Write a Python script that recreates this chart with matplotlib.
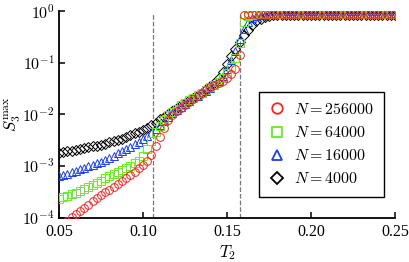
import matplotlib
matplotlib.use("Agg")
import matplotlib.pyplot as plt
import numpy as np

plt.rcParams['mathtext.fontset'] = 'cm'
plt.rcParams['font.family'] = 'serif'
plt.rcParams['font.serif'] = ['Liberation Serif', 'DejaVu Serif']

# temperature grid, 0.05 .. 0.25 in steps of 0.0025
T2 = [0.05 + 0.0025 * i for i in range(81)]

# log10 of S_3^max
log_s_256000 = [-4.20, -4.13, -4.06, -3.99, -3.93, -3.87, -3.81, -3.75, -3.69, -3.63,
                -3.57, -3.51, -3.46, -3.40, -3.35, -3.29, -3.23, -3.17, -3.11, -3.05,
                -2.98, -2.90, -2.78, -2.62, -2.45, -2.26, -2.12, -2.01, -1.94, -1.88,
                -1.83, -1.77, -1.70, -1.64, -1.58, -1.53, -1.48, -1.44, -1.40, -1.35,
                -1.29, -1.22, -1.12, -0.85, -0.07, -0.06, -0.06, -0.06, -0.06, -0.06,
                -0.06, -0.06, -0.06, -0.06, -0.06, -0.06, -0.06, -0.06, -0.06, -0.06,
                -0.06, -0.06, -0.06, -0.06, -0.06, -0.06, -0.06, -0.06, -0.06, -0.06,
                -0.06, -0.06, -0.06, -0.06, -0.06, -0.06, -0.06, -0.06, -0.06, -0.06,
                -0.06]
log_s_64000 = [-3.64, -3.61, -3.58, -3.55, -3.52, -3.48, -3.45, -3.41, -3.37, -3.33,
               -3.29, -3.24, -3.20, -3.16, -3.12, -3.08, -3.04, -3.00, -2.95, -2.90,
               -2.81, -2.68, -2.52, -2.34, -2.22, -2.11, -2.02, -1.95, -1.89, -1.83,
               -1.78, -1.73, -1.68, -1.63, -1.58, -1.53, -1.48, -1.43, -1.38, -1.30,
               -1.20, -1.08, -0.92, -0.62, -0.22, -0.10, -0.07, -0.06, -0.06, -0.06,
               -0.06, -0.06, -0.06, -0.06, -0.06, -0.06, -0.06, -0.06, -0.06, -0.06,
               -0.06, -0.06, -0.06, -0.06, -0.06, -0.06, -0.06, -0.06, -0.06, -0.06,
               -0.06, -0.06, -0.06, -0.06, -0.06, -0.06, -0.06, -0.06, -0.06, -0.06,
               -0.06]
log_s_16000 = [-3.20, -3.18, -3.15, -3.12, -3.10, -3.07, -3.04, -3.01, -2.98, -2.95,
               -2.92, -2.88, -2.84, -2.80, -2.76, -2.72, -2.68, -2.63, -2.58, -2.53,
               -2.48, -2.42, -2.36, -2.29, -2.21, -2.13, -2.05, -1.98, -1.91, -1.85,
               -1.80, -1.74, -1.69, -1.64, -1.59, -1.54, -1.49, -1.43, -1.36, -1.26,
               -1.12, -0.95, -0.78, -0.55, -0.35, -0.21, -0.13, -0.10, -0.08, -0.07,
               -0.065, -0.065, -0.065, -0.065, -0.065, -0.065, -0.065, -0.065, -0.065, -0.065,
               -0.065, -0.065, -0.065, -0.065, -0.065, -0.065, -0.065, -0.065, -0.065, -0.065,
               -0.065, -0.065, -0.065, -0.065, -0.065, -0.065, -0.065, -0.065, -0.065, -0.065,
               -0.065]
log_s_4000 = [-2.75, -2.74, -2.72, -2.71, -2.69, -2.68, -2.66, -2.64, -2.62, -2.61,
              -2.59, -2.57, -2.54, -2.52, -2.49, -2.47, -2.44, -2.41, -2.37, -2.34,
              -2.30, -2.26, -2.21, -2.16, -2.10, -2.05, -1.99, -1.94, -1.88, -1.83,
              -1.78, -1.73, -1.68, -1.63, -1.58, -1.52, -1.46, -1.39, -1.30, -1.18,
              -1.03, -0.88, -0.74, -0.60, -0.47, -0.36, -0.27, -0.20, -0.15, -0.11,
              -0.09, -0.08, -0.07, -0.07, -0.07, -0.07, -0.07, -0.07, -0.07, -0.07,
              -0.07, -0.07, -0.07, -0.07, -0.07, -0.07, -0.07, -0.07, -0.07, -0.07,
              -0.07, -0.07, -0.07, -0.07, -0.07, -0.07, -0.07, -0.07, -0.07, -0.07,
              -0.07]

labels = [r'$N = 256000$', r'$N = 64000$', r'$N = 16000$', r'$N = 4000$']
T_lines = [0.106, 0.158]

fig = plt.figure(figsize=(4.09, 2.62), dpi=100)
ax = fig.add_axes([59 / 409, 1 - 217.5 / 262, 336 / 409, 206.5 / 262])

for x in T_lines:
    ax.axvline(x, ymin=0, ymax=0.985, color='#777777', ls='--', lw=0.9, zorder=1)

kw = dict(ls='none', mew=0.7, mfc='none', zorder=3)
h4, = ax.plot(T2, 10 ** np.array(log_s_4000), marker='D', mec='black', ms=4.6, **kw)
h3, = ax.plot(T2, 10 ** np.array(log_s_16000), marker='^', mec='#1a3cff', ms=5.6, **kw)
h2, = ax.plot(T2, 10 ** np.array(log_s_64000), marker='s', mec='#66ee22', ms=5.4, **kw)
h1, = ax.plot(T2, 10 ** np.array(log_s_256000), marker='o', mec='#ff2020', ms=5.6, **kw)

ax.set_yscale('log')
ax.set_xlim(0.05, 0.25)
ax.set_ylim(1e-4, 1)
ax.set_xticks([0.05, 0.10, 0.15, 0.20, 0.25])
ax.set_xticklabels(['0.05', '0.10', '0.15', '0.20', '0.25'])
ax.set_yticks([1e-4, 1e-3, 1e-2, 1e-1, 1])
ax.set_yticklabels([r'$10^{-4}$', r'$10^{-3}$', r'$10^{-2}$', r'$10^{-1}$', r'$10^{0}$'])
ax.minorticks_off()
ax.tick_params(direction='in', length=4, width=1.1, labelsize=11.5, pad=3)
ax.tick_params(axis='x', pad=5)
for s in ['top', 'right']:
    ax.spines[s].set_visible(False)
for s in ['left', 'bottom']:
    ax.spines[s].set_linewidth(1.3)

ax.set_xlabel(r'$T_2$', fontsize=12, labelpad=2)
ax.set_ylabel(r'$S_3^{\rm max}$', fontsize=12)
ax.yaxis.set_label_coords(-0.108, 0.5)

leg = ax.legend([h1, h2, h3, h4], labels, loc='lower right',
                bbox_to_anchor=(0.967, 0.099), borderaxespad=0,
                fontsize=11.5, markerscale=1.35,
                handlelength=1.0, handletextpad=0.6, labelspacing=0.45,
                borderpad=0.6, fancybox=False, framealpha=1)
leg.get_frame().set_edgecolor('black')
leg.get_frame().set_linewidth(1.0)
for h in leg.legend_handles:
    h.set_markeredgewidth(1.3)

fig.savefig('out.png', dpi=100)
